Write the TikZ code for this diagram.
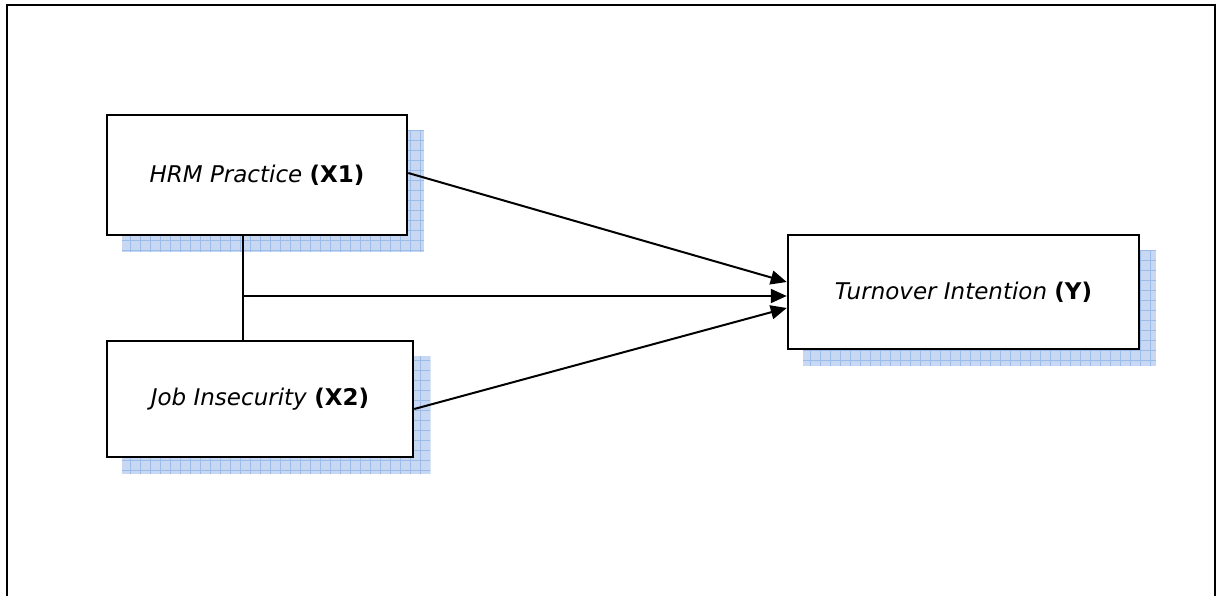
\documentclass[tikz,border=0pt]{standalone}
\usepackage{fontspec}
\setmainfont{DejaVu Sans}
\usetikzlibrary{arrows.meta,backgrounds,calc}
\definecolor{shfill}{RGB}{200,216,242}
\definecolor{shgrid}{RGB}{155,187,232}
\tikzset{
  varbox/.style={draw=black, line width=2.5pt, fill=white, align=center, font=\fontsize{23}{27}\selectfont},
  conn/.style={line width=2pt},
  arr/.style={conn, -{Triangle[length=16pt,width=14pt]}},
  frame/.style={line width=2.5pt}
}
\newcommand{\boxshadow}[1]{%
  \fill[shfill] ($(#1.north west)+(16,16)$) rectangle ($(#1.south east)+(16,16)$);
  \begin{scope}
    \clip ($(#1.north west)+(16,16)$) rectangle ($(#1.south east)+(16,16)$);
    \draw[shgrid, line width=0.8pt] ($(#1.north west)+(16,16)$) grid[step=10pt] ($(#1.south east)+(16,16)$);
  \end{scope}}
\begin{document}
\begin{tikzpicture}[x=1pt,y=-1pt]
\useasboundingbox (0,0) rectangle (1217,596);
\draw[frame] (7,5) rectangle (1215,620);
\node[varbox, minimum width=300pt, minimum height=120pt] (hrm) at (257,175) {\textit{HRM Practice} \textbf{(X1)}};
\node[varbox, minimum width=306pt, minimum height=116pt] (job) at (260,399) {\textit{Job Insecurity} \textbf{(X2)}};
\node[varbox, minimum width=351pt, minimum height=114pt] (ty) at (963.5,292) {\textit{Turnover Intention} \textbf{(Y)}};
\begin{scope}[on background layer]
  \boxshadow{hrm}
  \boxshadow{job}
  \boxshadow{ty}
\end{scope}
\coordinate (j) at (243,296);
\draw[conn] (hrm.south -| j) -- (job.north -| j);
\draw[arr] (j) -- (j -| ty.west);
\draw[arr] ($(hrm.east)+(0,-2)$) -- ($(ty.west)+(0,-10)$);
\draw[arr] ($(job.east)+(0,10)$) -- ($(ty.west)+(0,16)$);
\end{tikzpicture}
\end{document}
